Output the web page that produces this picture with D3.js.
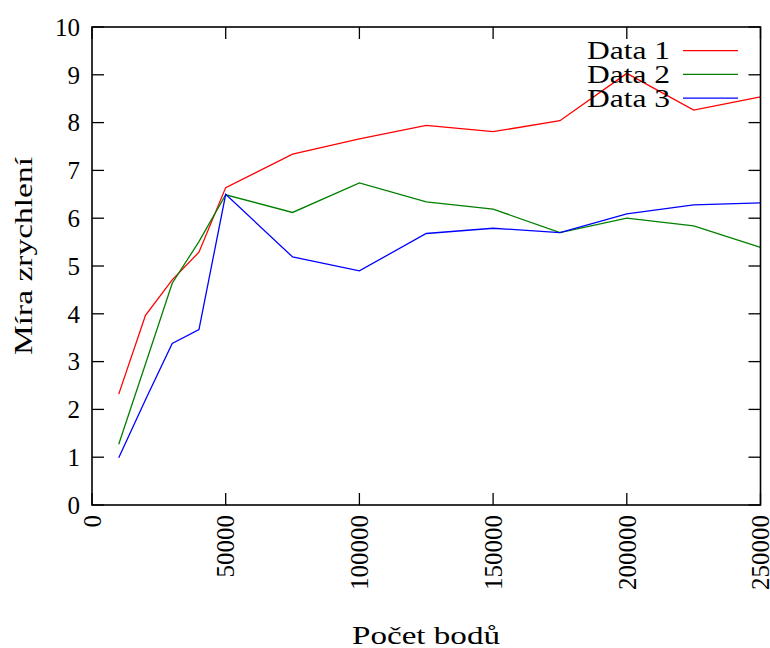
<!DOCTYPE html>
<html><head><meta charset="utf-8">
<script src="https://cdn.jsdelivr.net/npm/d3@7"></script>
<style>body{margin:0;background:#fff}svg{display:block}text{font-family:"Liberation Serif","Times New Roman",serif;fill:#000}</style>
</head><body><svg id="c" width="770" height="648"></svg>
<script>
const xValues = [10000,20000,30000,40000,50000,75000,100000,125000,150000,175000,200000,225000,250000];
const data1 = [2.32,3.97,4.71,5.29,6.64,7.34,7.66,7.94,7.81,8.04,9.03,8.26,8.54];
const data2 = [1.27,2.95,4.64,5.51,6.49,6.12,6.74,6.34,6.19,5.70,6.00,5.84,5.39];
const data3 = [0.99,2.20,3.38,3.67,6.50,5.19,4.90,5.68,5.79,5.70,6.09,6.28,6.32];
const seriesNames = ["Data 1","Data 2","Data 3"];
const seriesColors = ["#ff0000","#008000","#0000ff"];
const xTicks = [0,50000,100000,150000,200000,250000];
const yTicks = [0,1,2,3,4,5,6,7,8,9,10];
const xLabel = "Počet bodů";
const yLabel = "Míra zrychlení";

const svg = d3.select("#c");
const L=92, R=760.5, T=27, B=505;
const x = d3.scaleLinear().domain([0,250000]).range([L,R]);
const y = d3.scaleLinear().domain([0,10]).range([B,T]);
const fs = 25;

const tl = 12;
const g = svg.append("g").attr("stroke","#000").attr("stroke-width",1.3);
yTicks.forEach(v=>{
  g.append("line").attr("x1",L).attr("x2",L+tl).attr("y1",y(v)).attr("y2",y(v));
  g.append("line").attr("x1",R).attr("x2",R-tl).attr("y1",y(v)).attr("y2",y(v));
});
xTicks.forEach(v=>{
  g.append("line").attr("x1",x(v)).attr("x2",x(v)).attr("y1",B).attr("y2",B-tl);
  g.append("line").attr("x1",x(v)).attr("x2",x(v)).attr("y1",T).attr("y2",T+tl);
});

const series = [data1,data2,data3];
const line = d3.line().x((d,i)=>x(xValues[i])).y(d=>y(d));
series.forEach((s,k)=>{
  svg.append("path").datum(s).attr("d",line).attr("fill","none")
    .attr("stroke",seriesColors[k]).attr("stroke-width",1.3);
});

svg.append("rect").attr("x",L).attr("y",T).attr("width",R-L).attr("height",B-T)
  .attr("fill","none").attr("stroke","#000").attr("stroke-width",1.6);

yTicks.forEach(v=>{
  svg.append("text").attr("x",80).attr("y",y(v)).attr("dy","0.35em")
    .attr("text-anchor","end").attr("font-size",fs).text(v);
});
xTicks.forEach(v=>{
  svg.append("text").attr("transform",`translate(${x(v)},515) rotate(-90)`)
    .attr("dy","0.35em").attr("text-anchor","end").attr("font-size",fs).text(v);
});

svg.append("text").attr("x",352).attr("y",644)
  .attr("textLength",148).attr("lengthAdjust","spacingAndGlyphs")
  .attr("font-size",fs).text(xLabel);
svg.append("text").attr("transform","translate(32,355) rotate(-90)")
  .attr("textLength",198).attr("lengthAdjust","spacingAndGlyphs")
  .attr("font-size",fs).text(yLabel);

seriesNames.forEach((n,k)=>{
  const yy = 50.7 + k*23.7;
  svg.append("text").attr("x",587).attr("y",yy).attr("dy","0.35em")
    .attr("textLength",83).attr("lengthAdjust","spacingAndGlyphs")
    .attr("font-size",fs).text(n);
  svg.append("line").attr("x1",683).attr("x2",738).attr("y1",yy).attr("y2",yy)
    .attr("stroke",seriesColors[k]).attr("stroke-width",1.3);
});
</script></body></html>
